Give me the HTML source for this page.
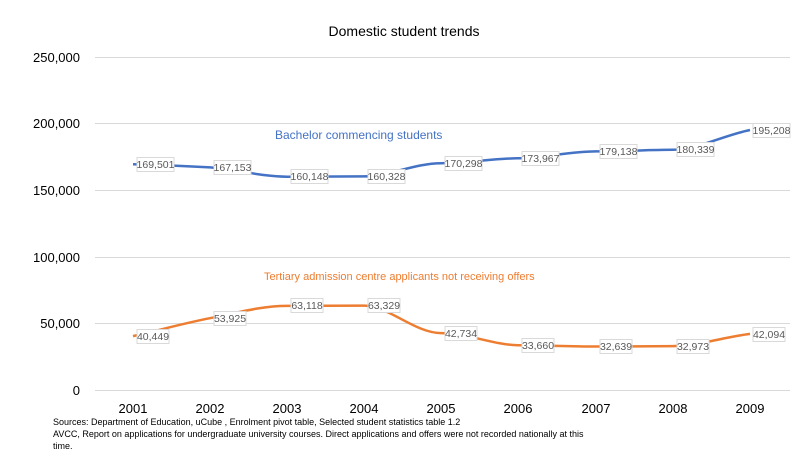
<!DOCTYPE html><html><head><style>body{margin:0;background:#fff}svg{display:block;font-family:"Liberation Sans",sans-serif}</style></head><body>
<svg width="800" height="450" viewBox="0 0 800 450">
<rect width="800" height="450" fill="#fff"/>
<text x="404" y="36" font-size="14" text-anchor="middle" fill="#000">Domestic student trends</text>
<g stroke="#d9d9d9" stroke-width="1">
<line x1="95" x2="790" y1="57.5" y2="57.5"/><line x1="95" x2="790" y1="123.5" y2="123.5"/><line x1="95" x2="790" y1="190.5" y2="190.5"/><line x1="95" x2="790" y1="257.5" y2="257.5"/><line x1="95" x2="790" y1="323.5" y2="323.5"/><line x1="95" x2="790" y1="390.5" y2="390.5"/>
</g>
<g font-size="13" text-anchor="end" fill="#000">
<text x="80" y="62">250,000</text><text x="80" y="128">200,000</text><text x="80" y="195">150,000</text><text x="80" y="262">100,000</text><text x="80" y="328">50,000</text><text x="80" y="395">0</text>
</g>
<g font-size="13" text-anchor="middle" fill="#000">
<text x="133" y="413">2001</text><text x="210" y="413">2002</text><text x="287" y="413">2003</text><text x="364" y="413">2004</text><text x="441" y="413">2005</text><text x="518" y="413">2006</text><text x="596" y="413">2007</text><text x="673" y="413">2008</text><text x="750" y="413">2009</text>
</g>
<path d="M133,164.2 C160,165 185,166 210,167.4 S260,176.7 287,176.7 S340,176.4 364,176.4 S415,163.2 441,163.2 S495,158.3 518,158.3 S570,151.4 596,151.4 S650,149.8 673,149.8 S725,135 750,130" fill="none" stroke="#4472c4" stroke-width="2.5"/>
<path d="M133,336.1 C160,330 185,323 210,318.2 S260,305.9 287,305.9 S340,305.6 364,305.6 S415,333.1 441,333.1 S495,345.2 518,345.2 S570,346.5 596,346.5 S650,346.1 673,346.1 S725,337 750,333.9" fill="none" stroke="#ed7d31" stroke-width="2.5"/>
<g font-size="10.5" fill="#595959">
<g transform="translate(137,157.5)"><rect width="37" height="14" fill="#fff" stroke="#d9d9d9"/><text x="18.5" y="10.5" text-anchor="middle">169,501</text></g>
<g transform="translate(214,160.5)"><rect width="37" height="14" fill="#fff" stroke="#d9d9d9"/><text x="18.5" y="10.5" text-anchor="middle">167,153</text></g>
<g transform="translate(291,169.5)"><rect width="37" height="14" fill="#fff" stroke="#d9d9d9"/><text x="18.5" y="10.5" text-anchor="middle">160,148</text></g>
<g transform="translate(368,169.5)"><rect width="37" height="14" fill="#fff" stroke="#d9d9d9"/><text x="18.5" y="10.5" text-anchor="middle">160,328</text></g>
<g transform="translate(445,156.5)"><rect width="37" height="14" fill="#fff" stroke="#d9d9d9"/><text x="18.5" y="10.5" text-anchor="middle">170,298</text></g>
<g transform="translate(522,151.5)"><rect width="37" height="14" fill="#fff" stroke="#d9d9d9"/><text x="18.5" y="10.5" text-anchor="middle">173,967</text></g>
<g transform="translate(600,144.5)"><rect width="37" height="14" fill="#fff" stroke="#d9d9d9"/><text x="18.5" y="10.5" text-anchor="middle">179,138</text></g>
<g transform="translate(677,142.5)"><rect width="37" height="14" fill="#fff" stroke="#d9d9d9"/><text x="18.5" y="10.5" text-anchor="middle">180,339</text></g>
<g transform="translate(753,123.5)"><rect width="37" height="14" fill="#fff" stroke="#d9d9d9"/><text x="18.5" y="10.5" text-anchor="middle">195,208</text></g>
<g transform="translate(137,329.5)"><rect width="32" height="14" fill="#fff" stroke="#d9d9d9"/><text x="16" y="10.5" text-anchor="middle">40,449</text></g>
<g transform="translate(214,311.5)"><rect width="32" height="14" fill="#fff" stroke="#d9d9d9"/><text x="16" y="10.5" text-anchor="middle">53,925</text></g>
<g transform="translate(291,298.5)"><rect width="32" height="14" fill="#fff" stroke="#d9d9d9"/><text x="16" y="10.5" text-anchor="middle">63,118</text></g>
<g transform="translate(368,298.5)"><rect width="32" height="14" fill="#fff" stroke="#d9d9d9"/><text x="16" y="10.5" text-anchor="middle">63,329</text></g>
<g transform="translate(445,326.5)"><rect width="32" height="14" fill="#fff" stroke="#d9d9d9"/><text x="16" y="10.5" text-anchor="middle">42,734</text></g>
<g transform="translate(522,338.5)"><rect width="32" height="14" fill="#fff" stroke="#d9d9d9"/><text x="16" y="10.5" text-anchor="middle">33,660</text></g>
<g transform="translate(600,339.5)"><rect width="32" height="14" fill="#fff" stroke="#d9d9d9"/><text x="16" y="10.5" text-anchor="middle">32,639</text></g>
<g transform="translate(677,339.5)"><rect width="32" height="14" fill="#fff" stroke="#d9d9d9"/><text x="16" y="10.5" text-anchor="middle">32,973</text></g>
<g transform="translate(753,327.5)"><rect width="32" height="14" fill="#fff" stroke="#d9d9d9"/><text x="16" y="10.5" text-anchor="middle">42,094</text></g>
</g>
<text x="275" y="139" font-size="12" fill="#4472c4">Bachelor  commencing students</text>
<text x="264" y="280" font-size="11" fill="#ed7d31">Tertiary admission centre applicants not receiving offers</text>
<g font-size="9" fill="#000">
<text x="53" y="425">Sources: Department of Education, uCube , Enrolment pivot table, Selected student statistics table 1.2</text>
<text x="53" y="437">AVCC, Report on applications for undergraduate university courses. Direct applications and offers were not recorded nationally at this</text>
<text x="53" y="449">time.</text>
</g>
</svg></body></html>
